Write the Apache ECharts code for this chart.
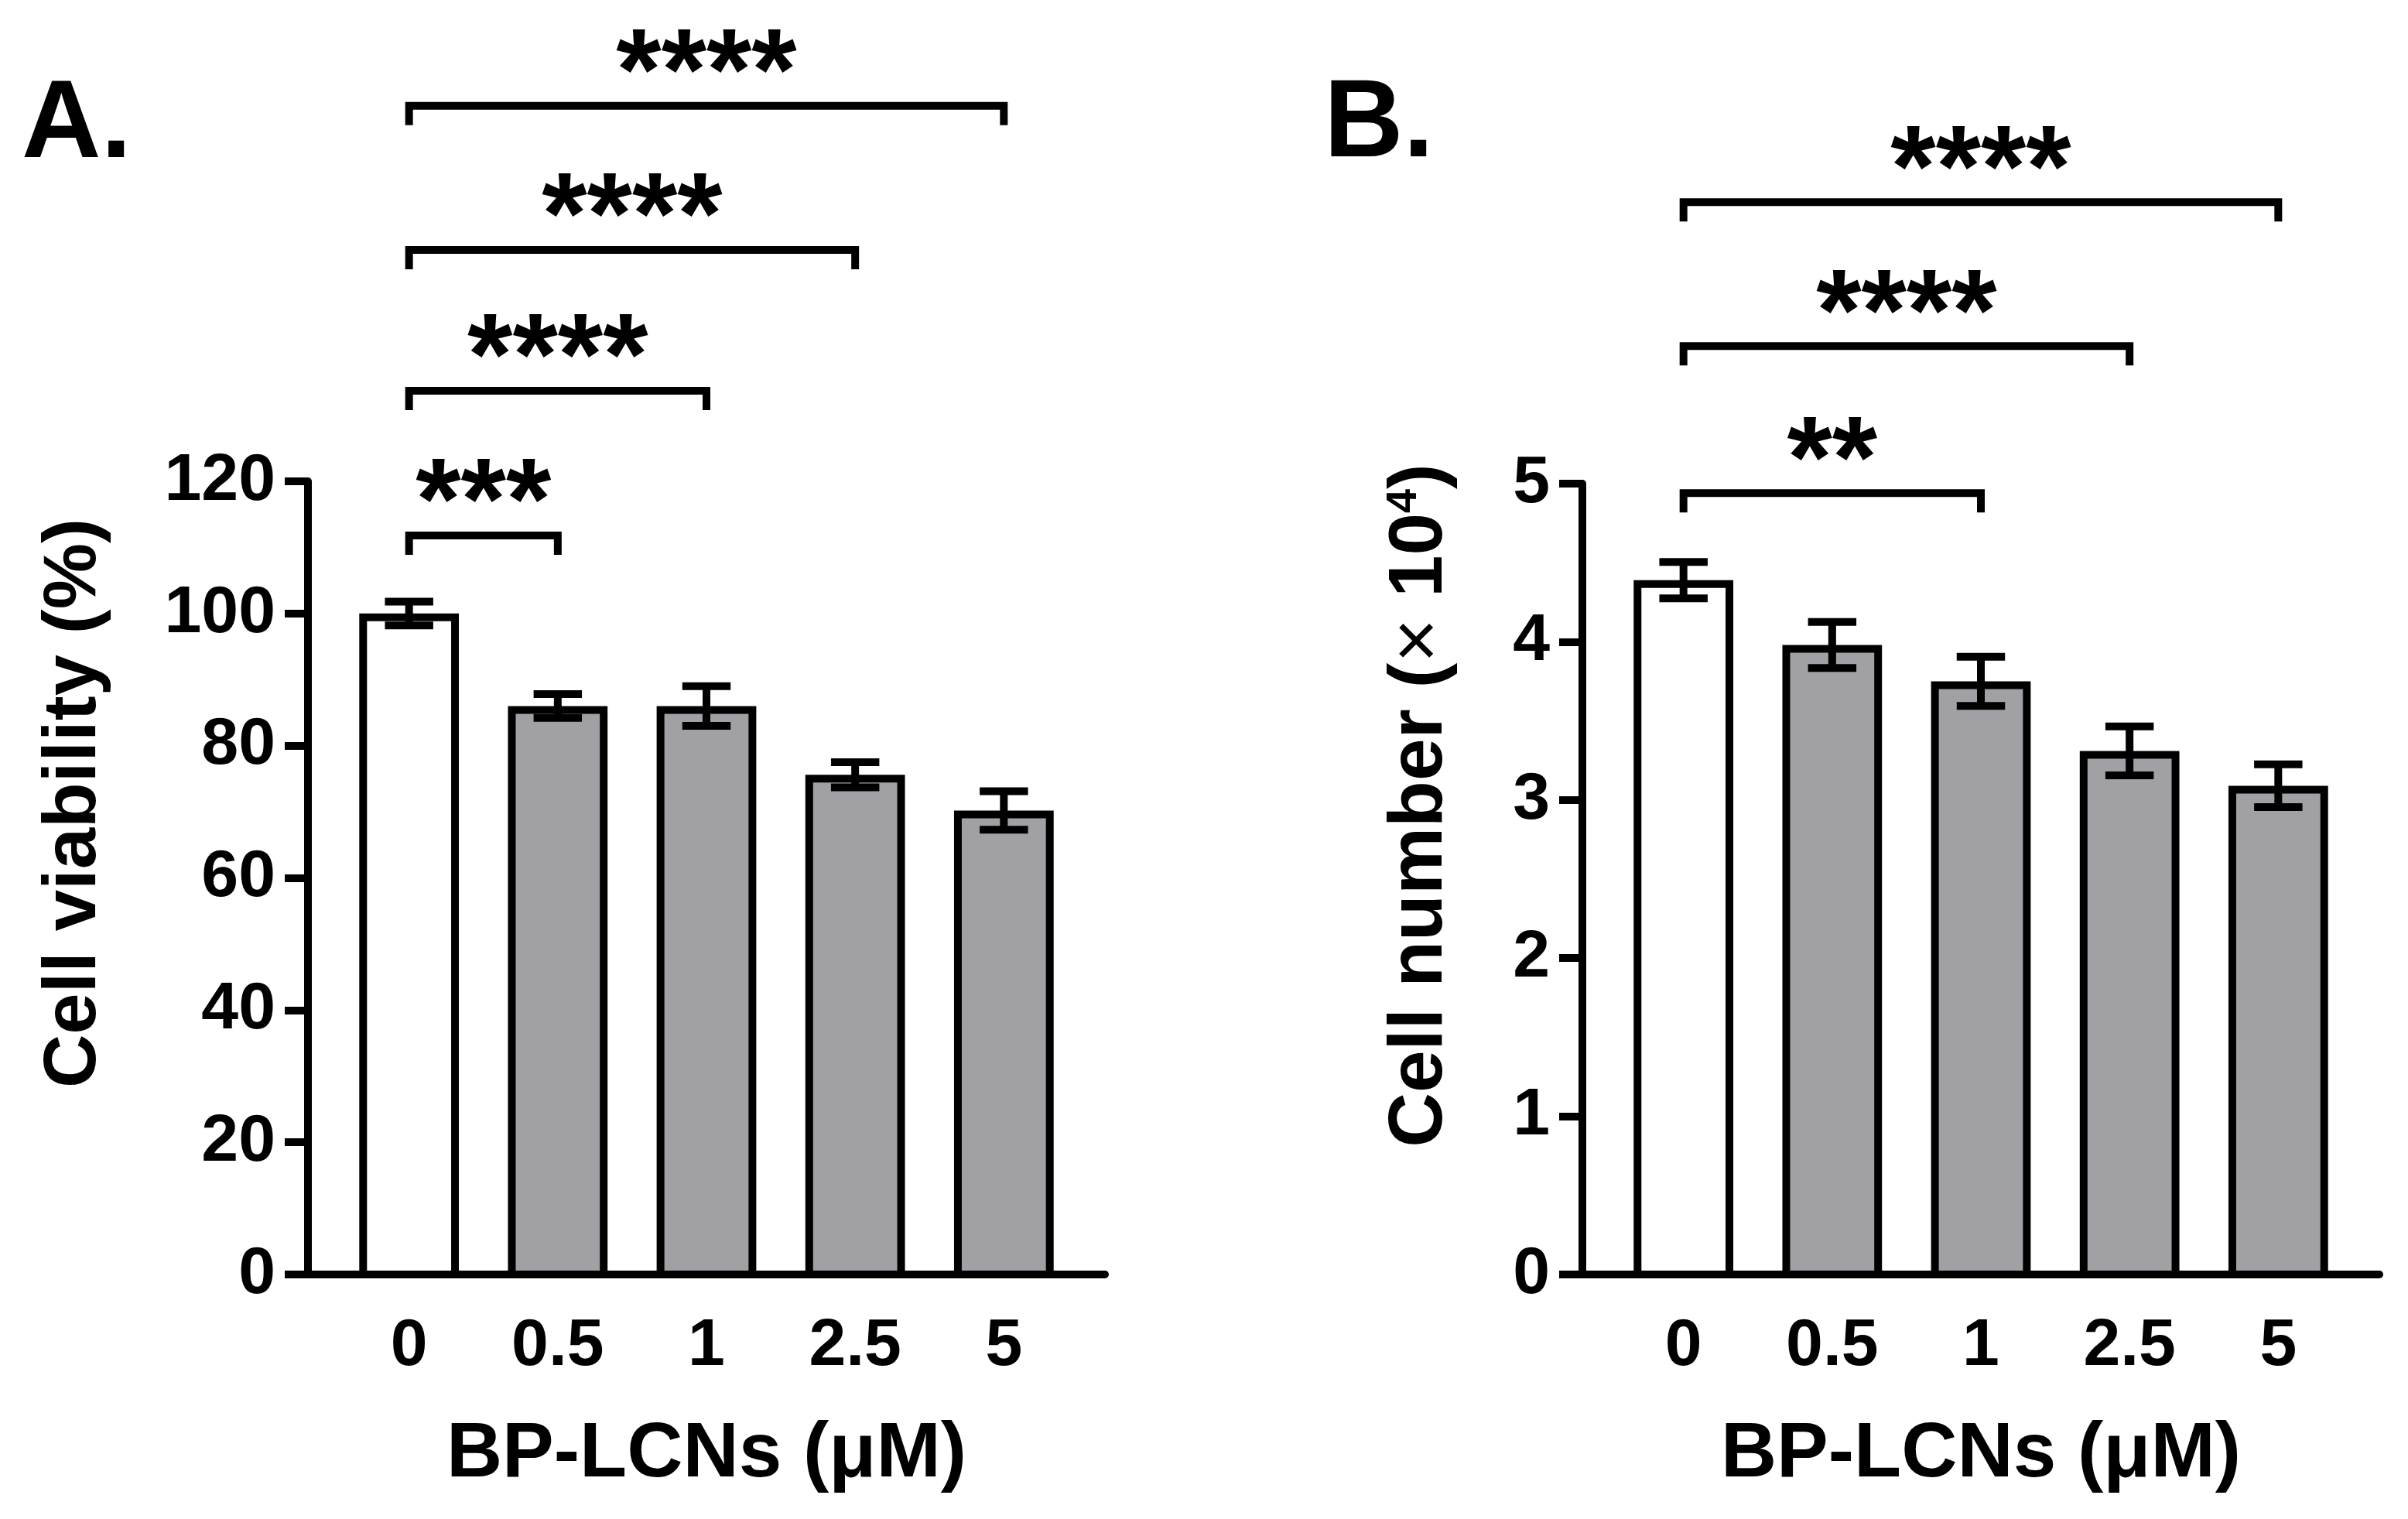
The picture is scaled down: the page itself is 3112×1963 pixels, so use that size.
<!DOCTYPE html>
<html>
<head>
<meta charset="utf-8">
<script src="https://cdn.jsdelivr.net/npm/echarts@6/dist/echarts.min.js"></script>
<style>
html, body { margin: 0; padding: 0; background: #fff; }
#main { width: 3112px; height: 1963px; }
</style>
</head>
<body>
<div id="main"></div>
<script>
// data
var doses = ['0', '0.5', '1', '2.5', '5'];
var viability = [100, 86, 86, 75.6, 70.2];
var viabilityErr = [1.8, 1.8, 3.0, 1.9, 2.9];
var cellNumber = [4.39, 3.98, 3.75, 3.31, 3.09];
var cellNumberErr = [0.115, 0.145, 0.155, 0.155, 0.135];
var viabilityTicks = [0, 20, 40, 60, 80, 100, 120];
var cellNumberTicks = [0, 1, 2, 3, 4, 5];
// brackets: [from group, to group, height in axis units]
var viabilityBrackets = [[0, 1, 111.8], [0, 2, 133.7], [0, 3, 155.0], [0, 4, 176.8]];
var viabilityStars = ['***', '****', '****', '****'];
var cellBrackets = [[0, 2, 4.94], [0, 3, 5.87], [0, 4, 6.78]];
var cellStars = ['**', '****', '****'];

var FONT = 'Liberation Sans, Arial, sans-serif';
var BAR_W = 0.67;   // in category units
var CAP_W = 0.325;
var LW = 10;
var GREY = '#a1a0a5';

var chart = echarts.init(document.getElementById('main'), null, { renderer: 'canvas' });

function pairs(vals, errs) {
  return vals.map(function (v, i) { return [i, v, errs[i]]; });
}

function renderBar(params, api) {
  var i = api.value(0);
  var top = api.coord([i, api.value(1)]);
  var base = api.coord([i, 0]);
  var w = api.size([BAR_W, 0])[0];
  return {
    type: 'rect',
    shape: { x: top[0] - w / 2 + LW / 2, y: top[1] + LW / 2, width: w - LW, height: base[1] - top[1] - LW / 2 },
    style: { fill: i === 0 ? '#ffffff' : GREY, stroke: '#000', lineWidth: LW }
  };
}

function renderErr(params, api) {
  var i = api.value(0), v = api.value(1), e = api.value(2);
  var hi = api.coord([i, v + e]);
  var lo = api.coord([i, v - e]);
  var cw = api.size([CAP_W, 0])[0] / 2;
  var st = { stroke: '#000', lineWidth: LW };
  return {
    type: 'group',
    children: [
      { type: 'line', shape: { x1: hi[0], y1: hi[1], x2: lo[0], y2: lo[1] }, style: st },
      { type: 'line', shape: { x1: hi[0] - cw, y1: hi[1], x2: hi[0] + cw, y2: hi[1] }, style: st },
      { type: 'line', shape: { x1: lo[0] - cw, y1: lo[1], x2: lo[0] + cw, y2: lo[1] }, style: st }
    ]
  };
}

function makeBracketRenderer(stars) {
  return function (params, api) {
    var a = api.coord([api.value(0), api.value(2)]);
    var b = api.coord([api.value(1), api.value(2)]);
    return {
      type: 'group',
      children: [
        {
          type: 'polyline',
          shape: { points: [[a[0], a[1] + 25], [a[0], a[1]], [b[0], b[1]], [b[0], b[1] + 25]] },
          style: { stroke: '#000', lineWidth: LW, fill: null, lineJoin: 'miter' }
        },
        {
          type: 'text',
          x: (a[0] + b[0]) / 2,
          y: a[1] - 36,
          style: {
            text: stars[params.dataIndex], fill: '#000',
            font: 'bold 150px ' + FONT, align: 'center', verticalAlign: 'middle'
          }
        }
      ]
    };
  };
}

function xAxisFor(gridIndex) {
  return {
    type: 'value', gridIndex: gridIndex, min: -0.68, max: 4.68,
    name: 'BP-LCNs (μM)', nameLocation: 'middle', nameGap: 183,
    nameTextStyle: { fontFamily: FONT, fontWeight: 'bold', fontSize: 100, color: '#000' },
    axisLine: { show: true, onZero: false, lineStyle: { color: '#000', width: LW } },
    axisTick: { show: false },
    splitLine: { show: false },
    axisLabel: {
      customValues: [0, 1, 2, 3, 4],
      formatter: function (v) { return doses[Math.round(v)]; },
      margin: 50, fontFamily: FONT, fontWeight: 'bold', fontSize: 86, color: '#000'
    }
  };
}

function yAxisFor(gridIndex, ticks) {
  return {
    type: 'value', gridIndex: gridIndex,
    min: ticks[0], max: ticks[ticks.length - 1], interval: ticks[1] - ticks[0],
    axisLine: { show: true, onZero: false, lineStyle: { color: '#000', width: LW } },
    axisTick: { show: true, length: 30, lineStyle: { color: '#000', width: LW } },
    splitLine: { show: false },
    axisLabel: { margin: 42, fontFamily: FONT, fontWeight: 'bold', fontSize: 86, color: '#000' }
  };
}

var option = {
  backgroundColor: '#fff',
  animation: false,
  grid: [
    { left: 398, top: 622, width: 1030, height: 1025, outerBoundsMode: 'none' },
    { left: 2045, top: 625, width: 1030, height: 1022, outerBoundsMode: 'none' }
  ],
  xAxis: [xAxisFor(0), xAxisFor(1)],
  yAxis: [yAxisFor(0, viabilityTicks), yAxisFor(1, cellNumberTicks)],
  graphic: [
    { type: 'text', x: 28, y: 164, style: { text: 'A.', fill: '#000', font: 'bold 142px ' + FONT, align: 'left', verticalAlign: 'middle' } },
    { type: 'text', x: 1711, y: 163, style: { text: 'B.', fill: '#000', font: 'bold 142px ' + FONT, align: 'left', verticalAlign: 'middle' } },
    {
      type: 'text', x: 97, y: 1038, rotation: Math.PI / 2,
      style: { text: 'Cell viability (%)', fill: '#000', font: 'bold 96px ' + FONT, align: 'center', verticalAlign: 'middle' }
    },
    {
      type: 'text', x: 1836, y: 1041, rotation: Math.PI / 2,
      style: {
        text: 'Cell number ({x|×} 10{sup|4})', fill: '#000', font: 'bold 98px ' + FONT,
        align: 'center', verticalAlign: 'middle',
        rich: {
          x: { fontFamily: FONT, fontWeight: 'normal', fontSize: 98, fill: '#000' },
          sup: { fontFamily: FONT, fontWeight: 'bold', fontSize: 56, fill: '#000', verticalAlign: 'top' }
        }
      }
    }
  ],
  series: [
    { type: 'custom', xAxisIndex: 0, yAxisIndex: 0, renderItem: renderBar, data: pairs(viability, viabilityErr), z: 2 },
    { type: 'custom', xAxisIndex: 0, yAxisIndex: 0, renderItem: renderErr, data: pairs(viability, viabilityErr), z: 3 },
    { type: 'custom', xAxisIndex: 0, yAxisIndex: 0, renderItem: makeBracketRenderer(viabilityStars), data: viabilityBrackets, z: 3, clip: false },
    { type: 'custom', xAxisIndex: 1, yAxisIndex: 1, renderItem: renderBar, data: pairs(cellNumber, cellNumberErr), z: 2 },
    { type: 'custom', xAxisIndex: 1, yAxisIndex: 1, renderItem: renderErr, data: pairs(cellNumber, cellNumberErr), z: 3 },
    { type: 'custom', xAxisIndex: 1, yAxisIndex: 1, renderItem: makeBracketRenderer(cellStars), data: cellBrackets, z: 3, clip: false }
  ]
};

chart.setOption(option);
</script>
</body>
</html>
